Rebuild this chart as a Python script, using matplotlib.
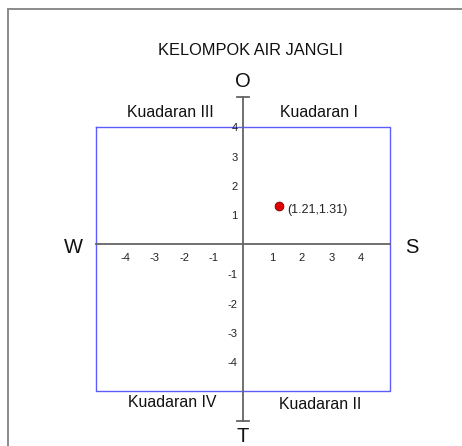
import matplotlib
matplotlib.use("Agg")
import matplotlib.pyplot as plt
from matplotlib.lines import Line2D

plt.rcParams['font.family'] = ['Liberation Sans', 'DejaVu Sans']

# data
title = "KELOMPOK AIR JANGLI"
pointX = [1.21]
pointY = [1.31]
xTicks = [-4, -3, -2, -1, 1, 2, 3, 4]
yTicks = [4, 3, 2, 1, -1, -2, -3, -4]
boxX = [-5, 5, 5, -5, -5]
boxY = [4, 4, -5, -5, 4]
directions = ["O", "T", "W", "S"]
quadrants = ["Kuadaran III", "Kuadaran I", "Kuadaran IV", "Kuadaran II"]

W, H = 462, 446
scale = 29.4
cx, cy = 243, 244.3

fig = plt.figure(figsize=(W / 100, H / 100), dpi=100)
ax = fig.add_axes([0, 0, 1, 1])
ax.set_xlim(-cx / scale, (W - cx) / scale)
ax.set_ylim(-(H - cy) / scale, cy / scale)
ax.axis('off')

# outer frame (top and left only visible)
fig.add_artist(Line2D([8 / W, 8 / W], [0, 1 - 8.5 / H], color='#8a8a8a', lw=1.4))
fig.add_artist(Line2D([8 / W, 1], [1 - 8.5 / H, 1 - 8.5 / H], color='#8a8a8a', lw=1.4))

axisColor = '#646464'
ax.plot(boxX, boxY, color='#5c5cff', lw=1.0, zorder=2)
ax.plot([-5, 5], [0, 0], color=axisColor, lw=1.3, zorder=3)
ax.plot([0, 0], [-6, 5], color=axisColor, lw=1.3, zorder=3)
for yEnd in (5, -6):
    ax.plot([-0.22, 0.22], [yEnd, yEnd], color=axisColor, lw=1.3, zorder=3)

tickFont = dict(fontsize=8, color='#222222')
for x in xTicks:
    ax.text(x, -0.57, str(x), ha='center', va='baseline', **tickFont)
for y in yTicks:
    ax.text(-0.18, y - 0.15, str(y), ha='right', va='baseline', **tickFont)

ax.scatter(pointX, pointY, s=40, color='#e00000', edgecolor='#7a0000', linewidth=0.6, zorder=5)
for px, py in zip(pointX, pointY):
    ax.annotate(f"({px},{py})", (px, py), xytext=(6, -5), textcoords='offset points',
                ha='left', va='baseline', fontsize=9, color='#222222')

ax.text(0.24, 6.44, title, ha='center', va='baseline', fontsize=11.8, color='#111111')

dirPos = [(0, 5.36), (0, -6.71), (-5.77, -0.31), (5.74, -0.31)]
for label, (x, y) in zip(directions, dirPos):
    ax.text(x, y, label, ha='center', va='baseline', fontsize=14.5, color='#111111')

quadPos = [(-2.46, 4.32), (2.58, 4.34), (-2.41, -5.54), (2.62, -5.60)]
for label, (x, y) in zip(quadrants, quadPos):
    ax.text(x, y, label, ha='center', va='baseline', fontsize=11.4, color='#111111')

fig.savefig("out.png", dpi=100)
